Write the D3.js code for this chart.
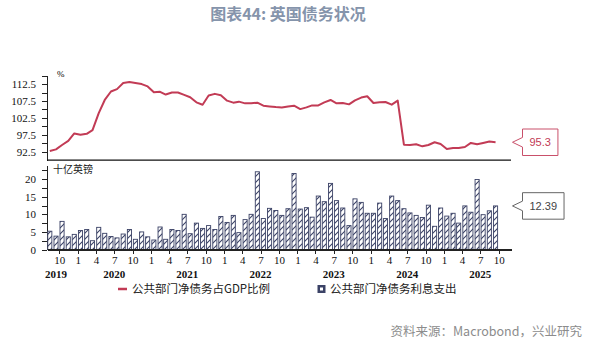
<!DOCTYPE html>
<html>
<head>
<meta charset="utf-8">
<script src="https://cdn.jsdelivr.net/npm/d3@7"></script>
<style>
  body { margin: 0; background: #fff; }
  .axis text { font-family: "Liberation Serif", serif; font-size: 11px; fill: #111; }
  .axis path, .axis line { stroke: #222; shape-rendering: crispEdges; }
</style>
</head>
<body>
<div class="chart"></div>
<script>
// monthly, Aug 2019 .. Sep 2025
const startMonth = new Date(2019, 7, 1);
const endMonth = new Date(2025, 9, 1);

// 公共部门净债务占GDP比例 (%)
const debtRatio = [
  92.7, 93.2, 94.5, 95.7, 97.9,
  97.5, 97.8, 98.9, 103.9, 107.8, 110.3, 111.0, 112.8, 113.1, 112.8, 112.5, 111.8,
  110.1, 110.2, 109.4, 110.0, 110.0, 109.3, 108.6, 107.1, 106.4, 109.1, 109.6, 109.2,
  107.6, 107.0, 107.3, 106.8, 106.8, 107.0, 106.1, 105.9, 105.7, 105.6, 105.9, 106.1,
  105.1, 105.6, 106.2, 106.2, 107.1, 107.8, 106.8, 106.9, 106.5, 107.7, 108.5, 108.9,
  106.9, 107.1, 107.2, 106.4, 107.6, 94.6, 94.5, 94.7, 94.1, 94.5, 95.3, 94.8,
  93.3, 93.6, 93.6, 93.9, 95.1, 94.7, 95.1, 95.5, 95.3
];

// 公共部门净债务利息支出 (十亿英镑)
const interest = [
  5.2, 3.8, 8.0, 3.6, 4.3,
  5.4, 5.7, 2.5, 6.3, 4.6, 3.7, 3.3, 4.4, 5.7, 2.9, 5.0, 3.6,
  2.7, 6.4, 2.9, 5.7, 5.4, 10.0, 4.5, 7.5, 6.0, 6.8, 5.7, 9.4,
  7.7, 9.7, 4.8, 8.5, 10.0, 22.1, 8.8, 11.7, 11.1, 9.7, 11.6, 21.6,
  11.5, 11.9, 9.2, 15.2, 13.6, 18.8, 13.9, 11.8, 6.8, 14.4, 13.4, 10.3,
  10.3, 13.2, 8.8, 15.2, 13.9, 11.6, 10.4, 9.7, 9.1, 12.6, 6.6, 11.8,
  9.5, 10.3, 7.5, 12.4, 10.6, 19.9, 9.9, 11.0, 12.39
];

const years = [2019, 2020, 2021, 2022, 2023, 2024, 2025];
const topTicks = [92.5, 95, 97.5, 100, 102.5, 105, 107.5, 110, 112.5, 115];
const topLabels = [92.5, 97.5, 102.5, 107.5, 112.5];
const botTicks = [0, 2.5, 5, 7.5, 10, 12.5, 15, 17.5, 20, 22.5];
const botLabels = [0, 5, 10, 15, 20];

const lineName = "公共部门净债务占GDP比例";
const barName = "公共部门净债务利息支出";

const lineColor = "#c23b55";
const barColor = "#3b4266";

const months = d3.timeMonth.range(startMonth, endMonth);
const data = months.map((m, i) => ({date: m, ratio: debtRatio[i], interest: interest[i]}));

const width = 590, height = 342;
const svg = d3.select('.chart')
  .append('svg')
  .attr('width', width)
  .attr('height', height);

const xScale = d3.scaleTime()
  .domain([startMonth, new Date(2025, 11, 1)])
  .range([47, 511]);
const mid = d => xScale(d3.timeDay.offset(d.date, 14));

const yTop = d3.scaleLinear().domain([90, 115]).range([160.2, 75.6]);
const yBot = d3.scaleLinear().domain([0, 24]).range([249.5, 165.1]);

// title
svg.append('text')
  .attr('x', 288).attr('y', 20)
  .attr('text-anchor', 'middle')
  .style('font-family', '"Noto Sans CJK SC", sans-serif')
  .style('font-weight', 'bold')
  .style('font-size', '16px')
  .style('fill', '#8594ab')
  .text('图表44: 英国债务状况');

// hatch pattern for bars
const defs = svg.append('defs');
const pat = defs.append('pattern')
  .attr('id', 'hatch')
  .attr('patternUnits', 'userSpaceOnUse')
  .attr('width', 6).attr('height', 6);
pat.append('rect').attr('width', 6).attr('height', 6).attr('fill', '#fff');
pat.append('path').attr('d', 'M0,6 L6,0 M-1,1 L1,-1 M5,7 L7,5')
  .attr('stroke', barColor).attr('stroke-width', 1.1);

// ---- top chart ----
const yTopAxis = d3.axisLeft(yTop)
  .tickValues(topTicks)
  .tickFormat(d => topLabels.includes(d) ? d3.format('.1f')(d) : '')
  .tickSize(5).tickSizeOuter(0).tickPadding(6);
svg.append('g')
  .attr('class', 'axis')
  .attr('transform', `translate(${xScale.range()[0]},0)`)
  .call(yTopAxis);

svg.append('line')
  .attr('x1', xScale.range()[0]).attr('x2', xScale.range()[1])
  .attr('y1', yTop(90)).attr('y2', yTop(90))
  .attr('stroke', '#111').attr('stroke-width', 1.2);

svg.append('text')
  .attr('x', 57).attr('y', 77)
  .style('font-family', '"Liberation Serif", serif')
  .style('font-size', '9px')
  .text('%');

const line = d3.line()
  .x(mid)
  .y(d => yTop(d.ratio));
svg.append('path')
  .datum(data)
  .attr('d', line)
  .attr('fill', 'none')
  .attr('stroke', lineColor)
  .attr('stroke-width', 2)
  .attr('stroke-linejoin', 'round');

// ---- bottom chart ----
const yBotAxis = d3.axisLeft(yBot)
  .tickValues(botTicks)
  .tickFormat(d => botLabels.includes(d) ? d : '')
  .tickSize(5).tickSizeOuter(0).tickPadding(6);
svg.append('g')
  .attr('class', 'axis')
  .attr('transform', `translate(${xScale.range()[0]},0)`)
  .call(yBotAxis);

svg.append('text')
  .attr('x', 53).attr('y', 173)
  .style('font-family', '"Noto Sans CJK SC", sans-serif')
  .style('font-size', '10px')
  .style('fill', '#222')
  .text('十亿英镑');

const barW = (xScale(months[1]) - xScale(months[0])) * 0.66;
svg.append('g')
  .selectAll('rect')
  .data(data)
  .enter()
  .append('rect')
    .attr('x', d => mid(d) - barW / 2)
    .attr('y', d => yBot(d.interest))
    .attr('width', barW)
    .attr('height', d => yBot(0) - yBot(d.interest))
    .attr('fill', 'url(#hatch)')
    .attr('stroke', barColor)
    .attr('stroke-width', 0.9);

const xAxis = d3.axisBottom(xScale)
  .tickValues(d3.timeMonth.every(3).range(new Date(2019, 9, 1), new Date(2025, 9, 2)))
  .tickFormat(d => d.getMonth() + 1)
  .tickSize(4).tickSizeOuter(0).tickPadding(3);
svg.append('g')
  .attr('class', 'axis x-axis')
  .attr('transform', `translate(0,${yBot(0)})`)
  .call(xAxis);
svg.select('.x-axis .domain').attr('stroke-width', 1.2);

svg.append('g')
  .selectAll('text')
  .data(years)
  .enter()
  .append('text')
    .attr('x', d => Math.max(xScale(new Date(d, 6, 1)), 56))
    .attr('y', 278)
    .attr('text-anchor', 'middle')
    .style('font-family', '"Liberation Serif", serif')
    .style('font-weight', 'bold')
    .style('font-size', '11px')
    .style('fill', '#111')
    .text(d => d);

// ---- legend ----
svg.append('line')
  .attr('x1', 118).attr('x2', 127).attr('y1', 289).attr('y2', 289)
  .attr('stroke', lineColor).attr('stroke-width', 2.5);
svg.append('text')
  .attr('x', 132).attr('y', 293)
  .style('font-family', '"Noto Sans CJK SC", sans-serif')
  .style('font-size', '11.5px')
  .style('fill', '#222')
  .text(lineName);
svg.append('rect')
  .attr('x', 317.5).attr('y', 285).attr('width', 8).attr('height', 8)
  .attr('fill', barColor);
svg.append('rect')
  .attr('x', 320).attr('y', 287.5).attr('width', 3).attr('height', 3)
  .attr('fill', '#fff');
svg.append('text')
  .attr('x', 330).attr('y', 293)
  .style('font-family', '"Noto Sans CJK SC", sans-serif')
  .style('font-size', '11.5px')
  .style('fill', '#222')
  .text(barName);

// ---- value callouts ----
function callout(yPos, color, textColor, label) {
  const tipX = xScale.range()[1] + 1.5;
  const boxX = tipX + 10;
  const g = svg.append('g');
  const t = g.append('text')
    .attr('x', 0).attr('y', yPos + 4)
    .style('font-family', '"Liberation Sans", sans-serif')
    .style('font-size', '11px')
    .style('fill', textColor)
    .text(label);
  const w = t.node().getComputedTextLength() + 14;
  const h = 26.5;
  const top = yPos - h / 2, bot = yPos + h / 2;
  g.insert('path', 'text')
    .attr('d', `M${boxX},${top} H${boxX + w} V${bot} H${boxX} V${yPos + 4.8} L${tipX},${yPos} L${boxX},${yPos - 4.8} Z`)
    .attr('fill', '#fff')
    .attr('stroke', color)
    .attr('stroke-width', 1);
  t.attr('x', boxX + w / 2).attr('text-anchor', 'middle');
}
const lastRatio = debtRatio[debtRatio.length - 1];
const lastInterest = interest[interest.length - 1];
callout(yTop(lastRatio), '#c9506a', '#c23b55', String(lastRatio));
callout(yBot(lastInterest), '#666', '#444', String(lastInterest));

// source
svg.append('text')
  .attr('x', 582).attr('y', 336)
  .attr('text-anchor', 'end')
  .style('font-family', '"Noto Sans CJK SC", sans-serif')
  .style('font-size', '12.5px')
  .style('fill', '#8c8c8c')
  .text('资料来源：Macrobond，兴业研究');
</script>
</body>
</html>
